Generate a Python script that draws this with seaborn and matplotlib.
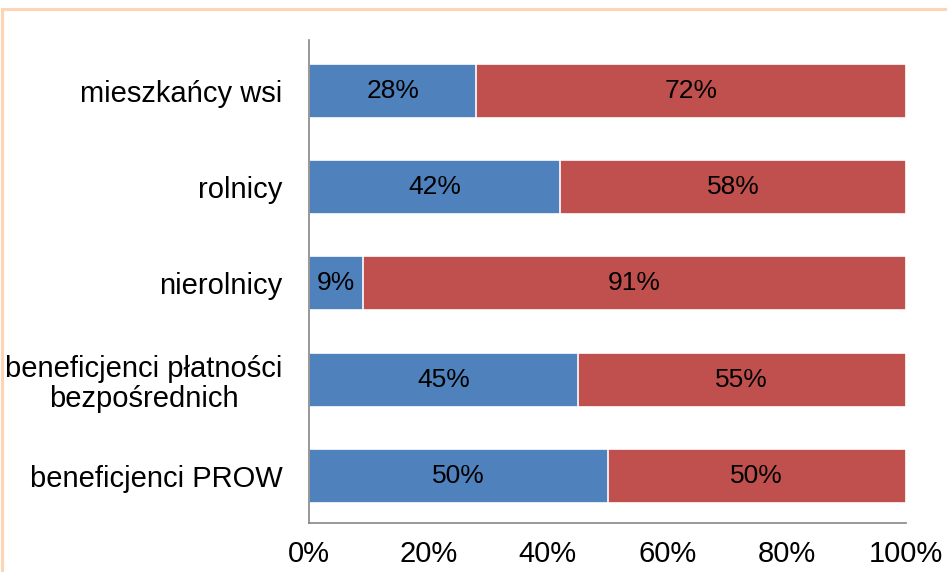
import matplotlib
matplotlib.use("Agg")
import matplotlib.pyplot as plt
import matplotlib.patches as mpatches
import seaborn as sns
import pandas as pd

categories = ["mieszkańcy wsi", "rolnicy", "nierolnicy",
              "beneficjenci płatności\nbezpośrednich", "beneficjenci PROW"]
tak = [28, 42, 9, 45, 50]
nie = [72, 58, 91, 55, 50]
xticks = [0, 20, 40, 60, 80, 100]
xtick_labels = ["0%", "20%", "40%", "60%", "80%", "100%"]

blue = "#4F81BD"
red = "#C0504D"

sns.set_theme(style="white")
plt.rcParams['font.family'] = ['Liberation Sans', 'DejaVu Sans']

df = pd.DataFrame({"cat": categories, "tak": tak, "nie": nie})
df["total"] = df["tak"] + df["nie"]

fig = plt.figure(figsize=(9.47, 5.72), dpi=100)
ax = fig.add_axes([309/947, 1-523/572, (906-309)/947, (523-40)/572])

sns.barplot(data=df, y="cat", x="total", color=red, saturation=1, width=0.56,
            edgecolor="white", linewidth=1.2, ax=ax, orient="h")
sns.barplot(data=df, y="cat", x="tak", color=blue, saturation=1, width=0.56,
            edgecolor="white", linewidth=1.2, ax=ax, orient="h")

for i, (t, n) in enumerate(zip(tak, nie)):
    ax.text(t / 2, i, f"{t}%", ha="center", va="center", fontsize=19, color="black")
    ax.text(t + n / 2, i, f"{n}%", ha="center", va="center", fontsize=19, color="black")

ax.set_xlim(0, 100)
ax.set_ylim(4.49, -0.53)
ax.set_xticks(xticks)
ax.set_xticklabels(xtick_labels, fontsize=21, color="black")
ax.set_xlabel("")
ax.set_ylabel("")
ax.tick_params(axis="x", length=0, pad=12)
ax.tick_params(axis="y", length=0, pad=19, labelsize=21, labelcolor="black")
for lbl in ax.get_yticklabels():
    lbl.set_multialignment("center")
    lbl.set_linespacing(1.1)
for s in ["top", "right"]:
    ax.spines[s].set_visible(False)
for s in ["left", "bottom"]:
    ax.spines[s].set_color("#868686")
    ax.spines[s].set_linewidth(1.2)

border = mpatches.Rectangle((1.5/947, -0.05), 1.2, 1 - 8.5/572 + 0.05,
                            transform=fig.transFigure, fill=False,
                            edgecolor="#FBD5B5", linewidth=2.2, clip_on=False)
fig.patches.append(border)

fig.savefig("out.png", dpi=100)
